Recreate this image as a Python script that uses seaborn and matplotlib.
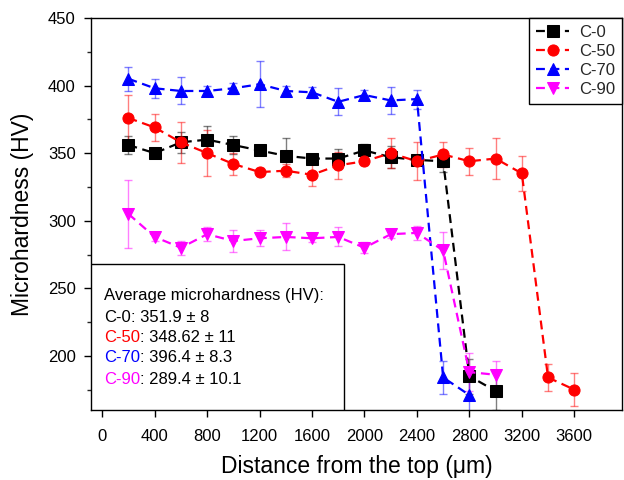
import matplotlib
matplotlib.use("Agg")
import matplotlib.pyplot as plt
import seaborn as sns
import pandas as pd
from matplotlib.patches import Rectangle
from matplotlib.ticker import MultipleLocator

# ---- data ----
x_c0 = [200, 400, 600, 800, 1000, 1200, 1400, 1600, 1800, 2000, 2200, 2400, 2600, 2800, 3000]
y_c0 = [356, 350, 358, 360, 356, 352, 348, 346, 346, 352, 347, 345, 344, 185, 174]
e_c0 = [7, 3, 8, 10, 7, 3, 13, 3, 7, 5, 8, 3, 8, 13, 14]

x_c50 = [200, 400, 600, 800, 1000, 1200, 1400, 1600, 1800, 2000, 2200, 2400, 2600, 2800, 3000, 3200, 3400, 3600]
y_c50 = [376, 369, 358, 350, 342, 336, 337, 334, 341, 344, 350, 344, 349, 344, 346, 335, 184, 175]
e_c50 = [17, 10, 15, 17, 8, 3, 5, 8, 10, 3, 11, 14, 9, 10, 15, 13, 10, 12]

x_c70 = [200, 400, 600, 800, 1000, 1200, 1400, 1600, 1800, 2000, 2200, 2400, 2600, 2800]
y_c70 = [405, 398, 396, 396, 398, 401, 396, 395, 388, 393, 389, 390, 184, 171]
e_c70 = [9, 7, 10, 4, 4, 17, 4, 4, 10, 4, 10, 7, 12, 12]

x_c90 = [200, 400, 600, 800, 1000, 1200, 1400, 1600, 1800, 2000, 2200, 2400, 2600, 2800, 3000]
y_c90 = [305, 288, 280, 290, 285, 287, 288, 287, 288, 280, 290, 291, 278, 188, 186]
e_c90 = [25, 3, 5, 5, 8, 6, 10, 3, 7, 4, 3, 5, 14, 14, 10]

series_names = ["C-0", "C-50", "C-70", "C-90"]
series_colors = ["black", "red", "blue", "magenta"]
series_markers = ["s", "o", "^", "v"]

avg_labels = ["C-0", "C-50", "C-70", "C-90"]
avg_values = [": 351.9 \u00b1 8", ": 348.62 \u00b1 11", ": 396.4 \u00b1 8.3", ": 289.4 \u00b1 10.1"]

x_ticks = [0, 400, 800, 1200, 1600, 2000, 2400, 2800, 3200, 3600]
y_ticks = [200, 250, 300, 350, 400, 450]

# ---- style ----
sns.set_theme(style="ticks")
plt.rcParams['font.family'] = ['Liberation Sans', 'DejaVu Sans']

fig = plt.figure(figsize=(6.24, 4.8), dpi=100)
ax = fig.add_axes([0.146, 0.146, 0.851, 0.8165])

xs = [x_c0, x_c50, x_c70, x_c90]
ys = [y_c0, y_c50, y_c70, y_c90]
es = [e_c0, e_c50, e_c70, e_c90]

for i, (name, col, mk) in enumerate(zip(series_names, series_colors, series_markers)):
    df = pd.DataFrame({"x": xs[i], "y": ys[i]})
    ax.errorbar(df["x"], df["y"], yerr=es[i], fmt="none", ecolor=col, alpha=0.5,
                elinewidth=1.0, capsize=3, capthick=1.0, zorder=2 + i * 0.1)
    sns.lineplot(data=df, x="x", y="y", ax=ax, color=col, marker=mk, markersize=8,
                 markeredgecolor=col, linestyle=(0, (4, 2.5)), linewidth=1.6,
                 label=name, sort=False, zorder=3 + i * 0.1)

ax.set_xlim(-85, 3965)
ax.set_ylim(160, 450)
ax.set_xticks(x_ticks)
ax.set_yticks(y_ticks)
ax.yaxis.set_minor_locator(MultipleLocator(25))
ax.tick_params(axis="both", which="major", direction="out", length=5, width=1,
               labelsize=12, colors="black", pad=6)
ax.tick_params(axis="x", which="major", pad=9)
ax.tick_params(axis="y", which="minor", direction="out", length=3, width=1)
for sp in ax.spines.values():
    sp.set_visible(True)
    sp.set_color("black")
    sp.set_linewidth(1.0)

ax.set_xlabel("Distance from the top (\u03bcm)", fontsize=16.5, color="black", labelpad=8)
ax.set_ylabel("Microhardness (HV)", fontsize=16.5, color="black", labelpad=10)

leg = ax.legend(loc="upper right", fontsize=12, frameon=True, fancybox=False,
                edgecolor="black", borderaxespad=0, handlelength=2.0,
                handletextpad=0.6, borderpad=0.4, labelspacing=0.25)
leg.get_frame().set_linewidth(1.0)
leg.get_frame().set_alpha(1)

# average text box
box = Rectangle((0, 0), 0.476, 0.372, transform=ax.transAxes, facecolor="white",
                edgecolor="black", linewidth=1.0, zorder=5)
ax.add_patch(box)
ax.text(0.0245, 0.293, "Average microhardness (HV):", transform=ax.transAxes,
        fontsize=12, color="black", va="center", ha="left", zorder=6)
line_y = [0.237, 0.184, 0.133, 0.077]
for lab, val, col, yy in zip(avg_labels, avg_values, series_colors, line_y):
    t = ax.text(0.0245, yy, lab, transform=ax.transAxes, fontsize=12, color=col,
                va="center", ha="left", zorder=6)
    ax.annotate(val, xy=(1, 0.5), xycoords=t, fontsize=12, color="black",
                va="center", ha="left", zorder=6)

fig.savefig("out.png", dpi=100)
